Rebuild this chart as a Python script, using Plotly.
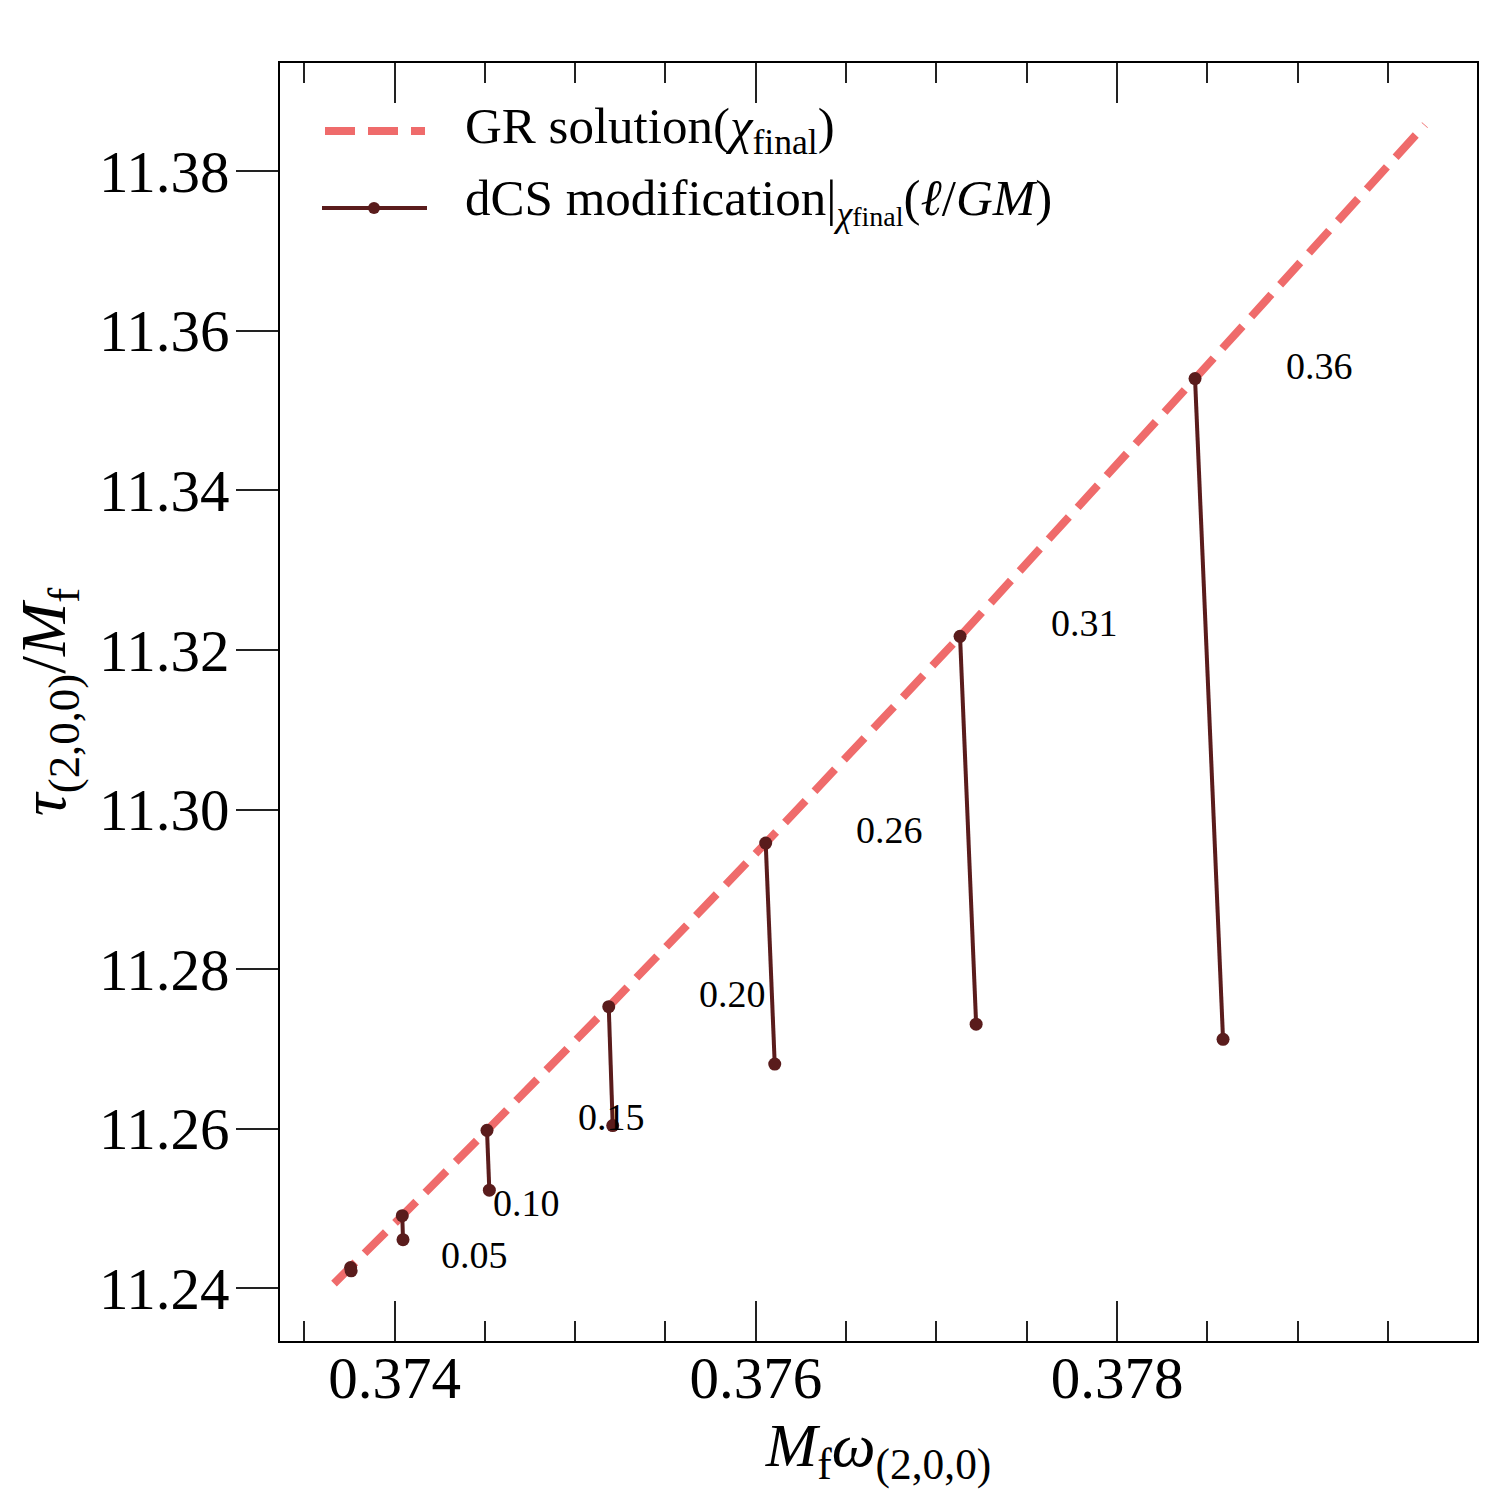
import plotly.graph_objects as go

# ---------------- data ----------------
ell_labels = ["0.05", "0.10", "0.15", "0.20", "0.26", "0.31", "0.36"]

# GR (top) points of each dCS modification
gr_omega = [0.373757, 0.374043, 0.374512, 0.375186, 0.376055, 0.377131, 0.378432]
gr_tau = [11.2426, 11.2491, 11.2598, 11.2753, 11.2958, 11.3217, 11.3540]

# dCS-modified (bottom) points
dcs_omega = [0.373760, 0.374047, 0.374525, 0.375208, 0.376105, 0.377220, 0.378587]
dcs_tau = [11.2422, 11.2461, 11.2523, 11.2604, 11.2681, 11.2731, 11.2712]

# GR solution curve (dashed)
gr_curve_omega = [0.373665, 0.373757, 0.374043, 0.374512, 0.375186, 0.376055,
                  0.377131, 0.378432, 0.379705]
gr_curve_tau = [11.2406, 11.2426, 11.2491, 11.2598, 11.2753, 11.2958,
                11.3217, 11.3540, 11.3858]

x_ticks = [0.374, 0.376, 0.378]
x_ticklabels = ["0.374", "0.376", "0.378"]
y_ticks = [11.24, 11.26, 11.28, 11.30, 11.32, 11.34, 11.36, 11.38]
y_ticklabels = ["11.24", "11.26", "11.28", "11.30", "11.32", "11.34", "11.36", "11.38"]

# ---------------- styling ----------------
FONT = "Liberation Serif"
GR_COLOR = "#ef6b6b"
DCS_COLOR = "#5a1c1c"
W, H = 1500, 1500
ML, MR, MT, MB = 280, 23, 63, 159
PW, PH = W - ML - MR, H - MT - MB


def px2paper(px, py):
    return (px - ML) / PW, (H - MB - py) / PH


fig = go.Figure()

fig.add_trace(go.Scatter(
    x=gr_curve_omega, y=gr_curve_tau, mode="lines",
    line=dict(color=GR_COLOR, width=8, dash="30px,13px"),
    showlegend=False, hoverinfo="skip"))

for i in range(len(ell_labels)):
    fig.add_trace(go.Scatter(
        x=[gr_omega[i], dcs_omega[i]], y=[gr_tau[i], dcs_tau[i]],
        mode="lines+markers",
        line=dict(color=DCS_COLOR, width=4),
        marker=dict(color=DCS_COLOR, size=13),
        showlegend=False))
    fig.add_annotation(
        x=gr_omega[i], y=gr_tau[i], text=ell_labels[i], showarrow=False,
        xshift=124, yshift=13, xanchor="center", yanchor="middle",
        font=dict(family=FONT, size=38, color="black"))

# ---------------- manual legend ----------------
x0, y0 = px2paper(325, 131)
x1, _ = px2paper(425, 131)
fig.add_shape(type="line", xref="paper", yref="paper", x0=x0, x1=x1, y0=y0, y1=y0,
              line=dict(color=GR_COLOR, width=8, dash="30px,13px"))
x0, y1 = px2paper(322, 208)
x1, _ = px2paper(427, 208)
fig.add_shape(type="line", xref="paper", yref="paper", x0=x0, x1=x1, y0=y1, y1=y1,
              line=dict(color=DCS_COLOR, width=4))
cx0, cy0 = px2paper(368, 214)
cx1, cy1 = px2paper(380, 202)
fig.add_shape(type="circle", xref="paper", yref="paper", x0=cx0, x1=cx1, y0=cy0, y1=cy1,
              fillcolor=DCS_COLOR, line=dict(color=DCS_COLOR, width=0))

tx, ty = px2paper(463, 130)
fig.add_annotation(xref="paper", yref="paper", x=tx, y=ty, showarrow=False,
                   xanchor="left", yanchor="middle",
                   text="GR solution(<i>χ</i><sub>final</sub>)",
                   font=dict(family=FONT, size=51, color="black"))
tx, ty = px2paper(463, 202)
fig.add_annotation(xref="paper", yref="paper", x=tx, y=ty, showarrow=False,
                   xanchor="left", yanchor="middle",
                   text="dCS modification|<sub><i>χ</i><span style='font-size:28px'>final</span></sub>(<i>ℓ</i>/<i>GM</i>)",
                   font=dict(family=FONT, size=51, color="black"))

fig.update_layout(
    width=W, height=H,
    margin=dict(l=ML, r=MR, t=MT, b=MB),
    paper_bgcolor="white", plot_bgcolor="white",
    font=dict(family=FONT, color="black"),
    showlegend=False,
)

fig.update_xaxes(
    range=[0.373366, 0.379993],
    tickmode="array", tickvals=x_ticks, ticktext=x_ticklabels,
    ticks="inside", ticklen=40, tickwidth=1.5, tickcolor="#222",
    minor=dict(ticks="inside", ticklen=20, tickwidth=1.5, tickcolor="#222",
               tick0=0.3735, dtick=0.0005, showgrid=False),
    showline=True, linecolor="black", linewidth=1.5, mirror="ticks",
    showgrid=False, zeroline=False, ticklabelstandoff=-16,
    tickfont=dict(family=FONT, size=59, color="black"),
    title=dict(text="<i>M</i><sub>f</sub><i>ω</i><sub>(2,0,0)</sub>",
               font=dict(family=FONT, size=62, color="black"), standoff=0),
)
fig.update_yaxes(
    range=[11.2334, 11.39355],
    tickmode="array", tickvals=y_ticks, ticktext=y_ticklabels,
    ticks="outside", ticklen=42, tickwidth=1.5, tickcolor="#222",
    showline=True, linecolor="black", linewidth=1.5, mirror=True,
    showgrid=False, zeroline=False, ticklabelstandoff=-5,
    tickfont=dict(family=FONT, size=59, color="black"),
    title=dict(text="<i>τ</i><sub>(2,0,0)</sub>/<i>M</i><sub>f</sub>",
               font=dict(family=FONT, size=64, color="black"), standoff=12),
)

fig.write_html("out.html")
